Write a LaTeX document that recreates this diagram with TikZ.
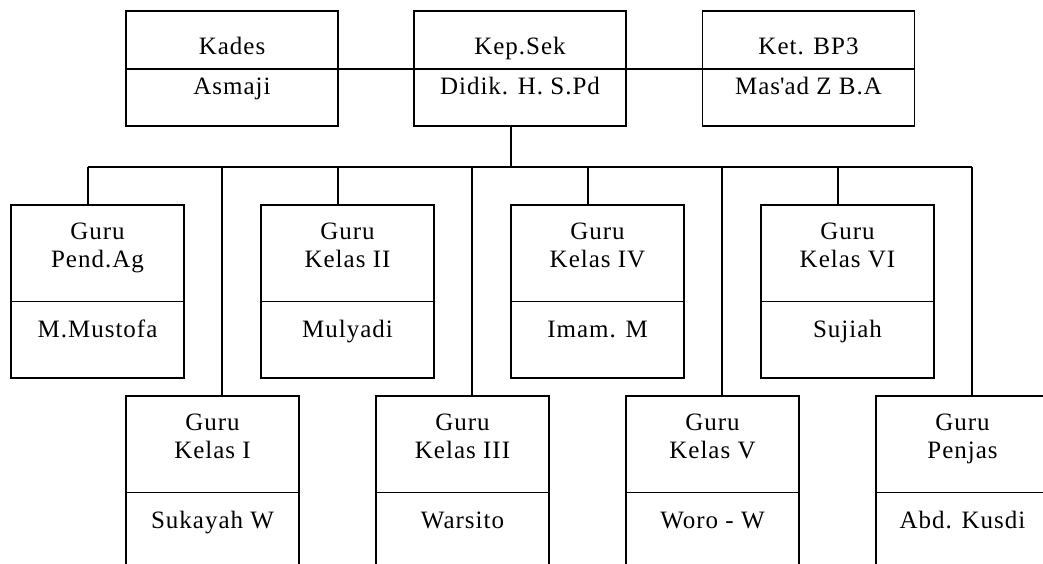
\documentclass[tikz,border=0pt]{standalone}
\usepackage{fontspec}
\setmainfont{Liberation Serif}[LetterSpace=4]
\begin{document}
\begin{tikzpicture}[x=1pt,y=-1pt,line width=1.2pt,
  topbox/.style={draw,minimum width=212pt,minimum height=115pt,inner sep=0pt},
  subbox/.style={draw,minimum width=173pt,minimum height=173pt,inner sep=0pt},
  lbl/.style={anchor=base,inner sep=0pt,font=\fontsize{25}{28}\selectfont}]
\useasboundingbox (0,0) rectangle (1043,564);
\begin{scope}
\clip (0,0) rectangle (1043,564);
% top row
\node[topbox] (kades) at (232,68.5) {};
\node[topbox] (kepsek) at (520,68.5) {};
\node[topbox] (bp3) at (808.5,68.5) {};
\foreach \b/\t/\n in {kades/Kades/Asmaji, kepsek/Kep.Sek/{Didik. H. S.Pd}, bp3/{Ket. BP3}/{Mas\textquotesingle ad Z B.A}}{
  \draw (\b.west |- 0,69) -- (\b.east |- 0,69);
  \node[lbl] (\b-t) at ([yshift=-44pt]\b.north) {\t};
  \node[lbl] (\b-n) at ([yshift=-84pt]\b.north) {\n};
}
\draw (kades.east |- 0,69) -- (kepsek.west |- 0,69);
\draw (kepsek.east |- 0,69) -- (bp3.west |- 0,69);
% second row
\node[subbox] (pa) at (97.5,291.5) {};
\node[subbox] (k2) at (347.5,291.5) {};
\node[subbox] (k4) at (597.5,291.5) {};
\node[subbox] (k6) at (847.5,291.5) {};
% third row
\node[subbox] (k1) at (212.5,482.5) {};
\node[subbox] (k3) at (462.5,482.5) {};
\node[subbox] (k5) at (712.5,482.5) {};
\node[subbox] (pj) at (962.5,482.5) {};
\foreach \b/\a/\c/\n in {pa/Guru/Pend.Ag/M.Mustofa, k2/Guru/Kelas II/Mulyadi, k4/Guru/Kelas IV/Imam. M, k6/Guru/Kelas VI/Sujiah,
  k1/Guru/Kelas I/Sukayah W, k3/Guru/Kelas III/Warsito, k5/Guru/Kelas V/Woro - W, pj/Guru/Penjas/Abd. Kusdi}{
  \draw ([yshift=-97pt]\b.north west) -- ([yshift=-97pt]\b.north east);
  \node[lbl] (\b-a) at ([yshift=-35pt]\b.north) {\a};
  \node[lbl] (\b-c) at ([yshift=-63pt]\b.north) {\c};
  \node[lbl] (\b-n) at ([yshift=-133pt]\b.north) {\n};
}
% connectors
\coordinate (bus) at (511,167);
\draw (kepsek.south -| bus) -- (bus);
\coordinate (busL) at (88,167);
\coordinate (busR) at (972,167);
\draw (busL) -- (busR);
\foreach \b in {pa,k2,k4,k6}{
  \draw ([xshift=-9.5pt]\b.north |- busL) -- ([xshift=-9.5pt]\b.north);
}
\foreach \b in {k1,k3,k5,pj}{
  \draw ([xshift=9.5pt]\b.north |- busL) -- ([xshift=9.5pt]\b.north);
}
\end{scope}
\end{tikzpicture}
\end{document}
